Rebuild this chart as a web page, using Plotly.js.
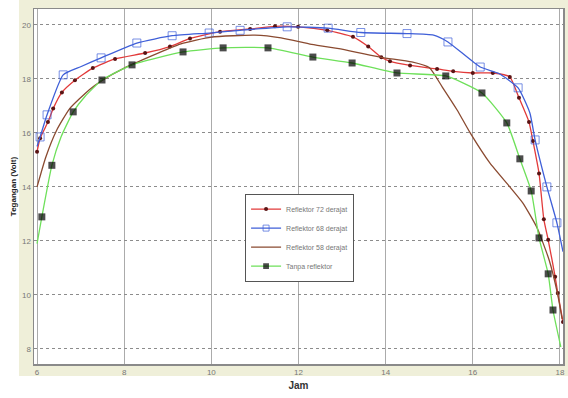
<!DOCTYPE html>
<html><head><meta charset="utf-8">
<script src="https://cdn.plot.ly/plotly-3.0.1.min.js"></script>
<style>html,body{margin:0;padding:0;background:#fff;} #chart{width:568px;height:398px;}</style>
</head><body><div id="chart"></div>
<script>
const xTicks = [6, 8, 10, 12, 14, 16, 18];
const yTicks = [8, 10, 12, 14, 16, 18, 20];
const seriesNames = ['Reflektor 72 derajat', 'Reflektor 68 derajat', 'Reflektor 58 derajat', 'Tanpa reflektor'];

const hours72 = [6.0, 6.07, 6.25, 6.37, 6.57, 6.87, 7.28, 7.79, 8.48, 9.05, 9.51, 10.2, 10.89, 11.46, 11.99, 12.66, 13.25, 13.6, 13.9, 14.1, 14.56, 15.18, 15.55, 16.0, 16.46, 16.85, 17.06, 17.29, 17.38, 17.52, 17.63, 17.73, 17.89, 17.95, 18.07];
const volts72 = [15.3, 15.8, 16.4, 16.9, 17.5, 17.95, 18.4, 18.74, 18.96, 19.2, 19.5, 19.75, 19.85, 19.95, 19.93, 19.8, 19.56, 19.2, 18.8, 18.65, 18.5, 18.37, 18.28, 18.22, 18.22, 18.07, 17.3, 16.4, 15.7, 14.5, 12.8, 12.04, 10.67, 10.07, 9.0];

const hours68 = [6.0, 6.07, 6.23, 6.6, 7.0, 7.47, 8.29, 9.1, 9.95, 10.66, 11.74, 12.68, 13.43, 14.49, 15.1, 15.43, 16.17, 16.6, 17.04, 17.31, 17.43, 17.7, 17.93, 18.07];
const volts68 = [15.5, 15.85, 16.67, 18.15, 18.45, 18.78, 19.33, 19.6, 19.7, 19.8, 19.93, 19.88, 19.72, 19.68, 19.62, 19.37, 18.44, 18.2, 17.67, 16.74, 15.74, 14.0, 12.67, 11.6];
const squareHours68 = [6.07, 6.23, 6.6, 7.47, 8.29, 9.1, 9.95, 10.66, 11.74, 12.68, 13.43, 14.49, 15.43, 16.17, 17.04, 17.43, 17.7, 17.93];

const hours58 = [6.0, 6.2, 6.45, 6.75, 7.2, 7.5, 8.0, 9.3, 10.0, 11.0, 11.6, 12.3, 13.1, 13.9, 14.6, 15.0, 15.3, 15.64, 15.94, 16.39, 16.85, 17.15, 17.47, 17.75, 17.95, 18.05];
const volts58 = [14.0, 15.1, 16.1, 16.9, 17.6, 17.95, 18.4, 19.3, 19.55, 19.62, 19.52, 19.28, 19.07, 18.8, 18.63, 18.42, 17.7, 16.85, 16.0, 14.89, 14.0, 13.4, 12.5, 11.3, 10.0, 9.1];

const hours0 = [6.0, 6.11, 6.34, 6.55, 6.83, 7.1, 7.49, 8.18, 9.35, 10.27, 11.3, 12.33, 13.23, 14.26, 15.38, 16.21, 16.78, 17.08, 17.34, 17.52, 17.73, 17.84, 18.02];
const volts0 = [11.9, 12.89, 14.8, 15.85, 16.78, 17.35, 17.96, 18.52, 19.0, 19.15, 19.15, 18.81, 18.59, 18.22, 18.11, 17.48, 16.37, 15.04, 13.85, 12.11, 10.78, 9.44, 8.07];
const squareHours0 = [6.11, 6.34, 6.83, 7.49, 8.18, 9.35, 10.27, 11.3, 12.33, 13.23, 14.26, 15.38, 16.21, 16.78, 17.08, 17.34, 17.52, 17.73, 17.84];

function sizesFor(hours, marked, s) { return hours.map(h => marked.includes(h) ? s : 0); }

const traces = [
  { x: hours72, y: volts72, name: seriesNames[0], type: 'scatter', mode: 'lines+markers',
    line: { color: '#e23a3a', width: 1.3, shape: 'spline', smoothing: 0.5 },
    marker: { color: '#5a1414', size: 4, symbol: 'circle', line: { width: 0 } } },
  { x: hours68, y: volts68, name: seriesNames[1], type: 'scatter', mode: 'lines+markers',
    line: { color: '#3f5fd8', width: 1.3, shape: 'spline', smoothing: 0.5 },
    marker: { color: '#3f5fd8', size: sizesFor(hours68, squareHours68, 8), symbol: 'square-open', line: { color: '#3f5fd8', width: 1 } } },
  { x: hours58, y: volts58, name: seriesNames[2], type: 'scatter', mode: 'lines',
    line: { color: '#8a4a30', width: 1.3, shape: 'spline', smoothing: 0.5 } },
  { x: hours0, y: volts0, name: seriesNames[3], type: 'scatter', mode: 'lines+markers',
    line: { color: '#6ee05a', width: 1.3, shape: 'spline', smoothing: 0.5 },
    marker: { color: '#000000', size: sizesFor(hours0, squareHours0, 7), symbol: 'square', line: { color: '#000000', width: 0 } } }
];

const layout = {
  width: 568, height: 398,
  margin: { l: 34, r: 5, t: 9, b: 34, pad: 0 },
  paper_bgcolor: '#ffffff', plot_bgcolor: '#ffffff',
  font: { family: 'Liberation Sans, Arial, sans-serif', size: 8, color: '#666' },
  showlegend: true,
  xaxis: {
    range: [5.93, 18.07], tickvals: xTicks, ticktext: xTicks.map(String),
    showgrid: true, gridcolor: '#ababab', gridwidth: 1, zeroline: false,
    showline: true, linecolor: '#8a8a8a', linewidth: 1.5, mirror: true,
    ticks: '', tickfont: { size: 8, color: '#777' },
    title: { text: 'Jam', font: { size: 10, color: '#333', weight: 'bold' }, standoff: 6 }
  },
  yaxis: {
    range: [7.44, 20.59], tickvals: yTicks, ticktext: yTicks.map(String),
    showgrid: true, gridcolor: '#8c8c8c', gridwidth: 1, griddash: 'dot', zeroline: false,
    showline: true, linecolor: '#8a8a8a', linewidth: 1.5, mirror: true,
    ticks: '', tickfont: { size: 8, color: '#777' },
    title: { text: 'Tegangan (Volt)', font: { size: 8, color: '#222', weight: 'bold' }, standoff: 4 }
  },
  legend: {
    x: 0.399, y: 0.48, xanchor: 'left', yanchor: 'top',
    bgcolor: '#ffffff', bordercolor: '#555', borderwidth: 1,
    font: { size: 7, color: '#777' }, tracegroupgap: 0
  },
  shapes: [
    { type: 'rect', xref: 'paper', yref: 'paper', x0: -0.0284, x1: 1.0095, y0: -0.034, y1: 1.026,
      fillcolor: '#efefd9', line: { width: 0 }, layer: 'below' },
    { type: 'rect', xref: 'paper', yref: 'paper', x0: 0, x1: 1, y0: 0, y1: 1,
      fillcolor: '#ffffff', line: { width: 0 }, layer: 'below' }
  ]
};

Plotly.newPlot('chart', traces, layout, { displayModeBar: false, staticPlot: true });
</script>
</body></html>
